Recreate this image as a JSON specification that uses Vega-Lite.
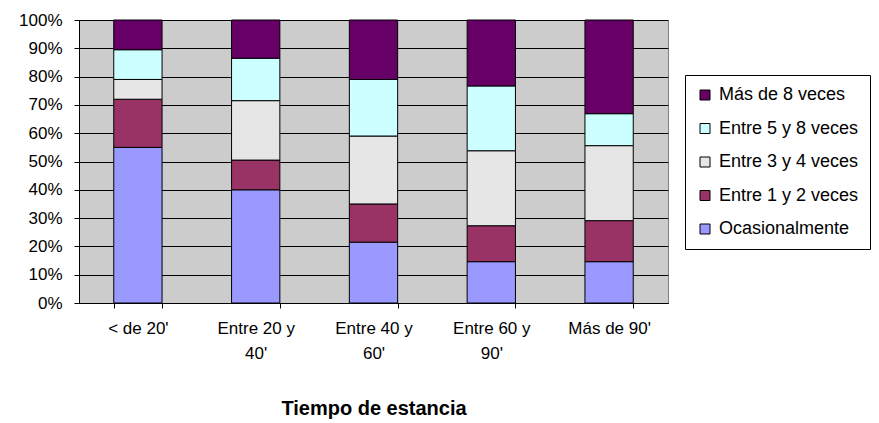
{
  "$schema": "https://vega.github.io/schema/vega-lite/v6.json",
  "autosize": "none",
  "width": 589,
  "height": 283,
  "padding": {"left": 79, "top": 20, "right": 211, "bottom": 120},
  "background": "white",
  "config": {
    "font": "Liberation Sans",
    "view": {"fill": "#CCCCCC", "stroke": "#808080", "strokeWidth": 1}
  },
  "data": {
    "values": [
      {"tiempo": "< de 20'", "frecuencia": "Ocasionalmente", "pct": 55},
      {"tiempo": "< de 20'", "frecuencia": "Entre 1 y 2 veces", "pct": 17},
      {"tiempo": "< de 20'", "frecuencia": "Entre 3 y 4 veces", "pct": 7},
      {"tiempo": "< de 20'", "frecuencia": "Entre 5 y 8 veces", "pct": 10.5},
      {"tiempo": "< de 20'", "frecuencia": "Más de 8 veces", "pct": 10.5},
      {"tiempo": "Entre 20 y 40'", "frecuencia": "Ocasionalmente", "pct": 40},
      {"tiempo": "Entre 20 y 40'", "frecuencia": "Entre 1 y 2 veces", "pct": 10.5},
      {"tiempo": "Entre 20 y 40'", "frecuencia": "Entre 3 y 4 veces", "pct": 21},
      {"tiempo": "Entre 20 y 40'", "frecuencia": "Entre 5 y 8 veces", "pct": 15},
      {"tiempo": "Entre 20 y 40'", "frecuencia": "Más de 8 veces", "pct": 13.5},
      {"tiempo": "Entre 40 y 60'", "frecuencia": "Ocasionalmente", "pct": 21.5},
      {"tiempo": "Entre 40 y 60'", "frecuencia": "Entre 1 y 2 veces", "pct": 13.5},
      {"tiempo": "Entre 40 y 60'", "frecuencia": "Entre 3 y 4 veces", "pct": 24},
      {"tiempo": "Entre 40 y 60'", "frecuencia": "Entre 5 y 8 veces", "pct": 20},
      {"tiempo": "Entre 40 y 60'", "frecuencia": "Más de 8 veces", "pct": 21},
      {"tiempo": "Entre 60 y 90'", "frecuencia": "Ocasionalmente", "pct": 14.6},
      {"tiempo": "Entre 60 y 90'", "frecuencia": "Entre 1 y 2 veces", "pct": 12.7},
      {"tiempo": "Entre 60 y 90'", "frecuencia": "Entre 3 y 4 veces", "pct": 26.5},
      {"tiempo": "Entre 60 y 90'", "frecuencia": "Entre 5 y 8 veces", "pct": 22.9},
      {"tiempo": "Entre 60 y 90'", "frecuencia": "Más de 8 veces", "pct": 23.3},
      {"tiempo": "Más de 90'", "frecuencia": "Ocasionalmente", "pct": 14.6},
      {"tiempo": "Más de 90'", "frecuencia": "Entre 1 y 2 veces", "pct": 14.5},
      {"tiempo": "Más de 90'", "frecuencia": "Entre 3 y 4 veces", "pct": 26.5},
      {"tiempo": "Más de 90'", "frecuencia": "Entre 5 y 8 veces", "pct": 11.3},
      {"tiempo": "Más de 90'", "frecuencia": "Más de 8 veces", "pct": 33.1}
    ]
  },
  "transform": [
    {"calculate": "indexof(['Ocasionalmente', 'Entre 1 y 2 veces', 'Entre 3 y 4 veces', 'Entre 5 y 8 veces', 'Más de 8 veces'], datum.frecuencia)", "as": "rango"}
  ],
  "mark": {"type": "bar", "stroke": "black", "strokeWidth": 1},
  "encoding": {
    "x": {
      "field": "tiempo",
      "type": "nominal",
      "sort": ["< de 20'", "Entre 20 y 40'", "Entre 40 y 60'", "Entre 60 y 90'", "Más de 90'"],
      "scale": {"paddingInner": 0.59, "paddingOuter": 0.295},
      "axis": {
        "title": "Tiempo de estancia",
        "titleFontSize": 20,
        "titleFontWeight": "bold",
        "titleColor": "black",
        "titlePadding": 37,
        "labelAngle": 0,
        "labelFontSize": 17,
        "labelColor": "black",
        "labelPadding": 12,
        "labelLineHeight": 25,
        "labelExpr": "split(replace(datum.label, ' y ', ' y|'), '|')",
        "tickBand": "extent",
        "tickSize": 5,
        "tickColor": "black",
        "domainColor": "black",
        "grid": false
      }
    },
    "y": {
      "field": "pct",
      "type": "quantitative",
      "stack": "normalize",
      "scale": {"domain": [0, 1]},
      "axis": {
        "title": null,
        "format": ".0%",
        "values": [0, 0.1, 0.2, 0.3, 0.4, 0.5, 0.6, 0.7, 0.8, 0.9, 1],
        "labelFontSize": 17,
        "labelColor": "black",
        "labelPadding": 12,
        "tickSize": 5,
        "tickColor": "black",
        "domainColor": "black",
        "grid": true,
        "gridColor": "black",
        "gridOpacity": 1
      }
    },
    "color": {
      "field": "frecuencia",
      "type": "nominal",
      "scale": {
        "domain": ["Ocasionalmente", "Entre 1 y 2 veces", "Entre 3 y 4 veces", "Entre 5 y 8 veces", "Más de 8 veces"],
        "range": ["#9999FF", "#993366", "#E6E6E6", "#CCFFFF", "#660066"]
      },
      "legend": {
        "title": null,
        "values": ["Más de 8 veces", "Entre 5 y 8 veces", "Entre 3 y 4 veces", "Entre 1 y 2 veces", "Ocasionalmente"],
        "orient": "none",
        "legendX": 606,
        "legendY": 55,
        "padding": 11,
        "fillColor": "white",
        "strokeColor": "black",
        "symbolType": "square",
        "symbolSize": 100,
        "symbolStrokeColor": "black",
        "symbolStrokeWidth": 1,
        "symbolOpacity": 1,
        "labelFontSize": 18,
        "labelColor": "black",
        "labelOffset": 5,
        "rowPadding": 15.5
      }
    },
    "order": {"field": "rango", "type": "quantitative", "sort": "ascending"}
  }
}
